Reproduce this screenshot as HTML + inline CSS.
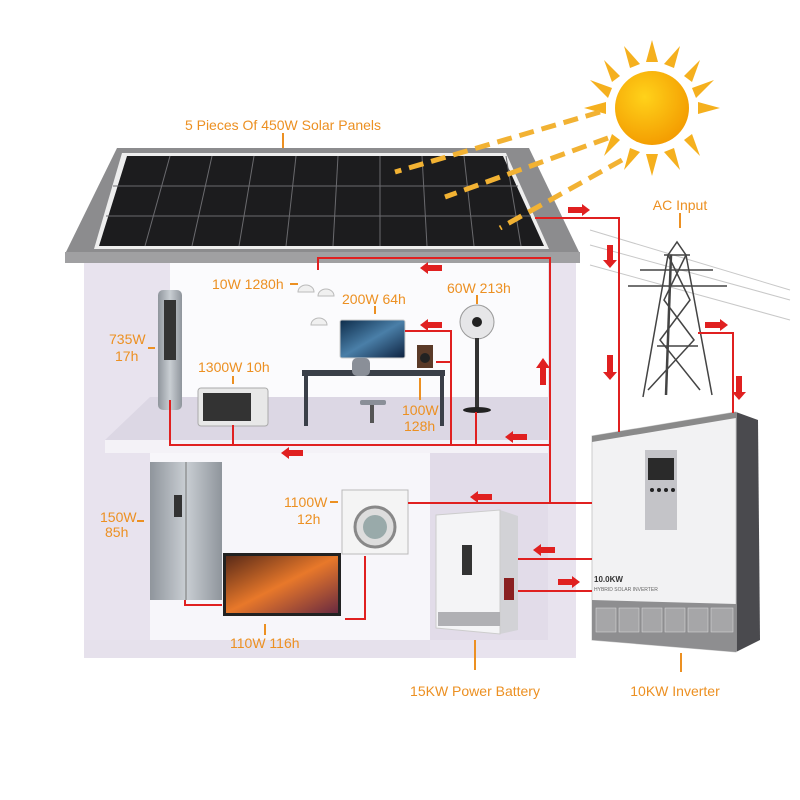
<!DOCTYPE html>
<html><head><meta charset="utf-8"><style>
html,body{margin:0;padding:0;background:#fff;}
svg{display:block}
text{font-family:"Liberation Sans",sans-serif;fill:#ec9022;font-size:14px}
</style></head><body>
<svg width="800" height="800" viewBox="0 0 800 800" xmlns="http://www.w3.org/2000/svg">
<defs>
<radialGradient id="sun" cx="0.4" cy="0.35" r="0.7"><stop offset="0" stop-color="#ffd21a"/><stop offset="1" stop-color="#f39a00"/></radialGradient>
<linearGradient id="tv" x1="0" y1="0" x2="1" y2="1"><stop offset="0" stop-color="#5a2a18"/><stop offset="0.5" stop-color="#e8782a"/><stop offset="1" stop-color="#6a2a40"/></linearGradient>
<linearGradient id="silver" x1="0" x2="1"><stop offset="0" stop-color="#8f959c"/><stop offset="0.5" stop-color="#c9ced3"/><stop offset="1" stop-color="#8f959c"/></linearGradient>
<linearGradient id="mon" x1="0" y1="0" x2="1" y2="1"><stop offset="0" stop-color="#0d2c4a"/><stop offset="0.5" stop-color="#4a7fa8"/><stop offset="1" stop-color="#0d2240"/></linearGradient>
</defs>

<!-- house -->
<rect x="84" y="262" width="492" height="396" fill="#e8e3ee"/>
<rect x="170" y="262" width="378" height="135" fill="#fbfbfd"/>
<polygon points="150,397 548,397 548,440 105,440" fill="#dcd7e4"/>
<rect x="105" y="440" width="443" height="13" fill="#f4f2f7"/>
<rect x="150" y="453" width="280" height="190" fill="#f7f6fa"/>
<polygon points="430,453 548,453 548,640 430,640" fill="#e2dce9"/>
<polygon points="84,640 430,640 430,658 84,658" fill="#e6e1ec"/>

<!-- roof -->
<polygon points="117,148 529,148 580,254 65,254" fill="#8c8c8e"/>
<rect x="65" y="252" width="515" height="11" fill="#a0a0a2"/>
<polygon points="122,153 506,153 549,249 94,249" fill="#eeeeee"/>
<polygon points="127,156 503,156 544,246 99,246" fill="#1c1c1e"/>
<g stroke="#6a6a6e" stroke-width="1">
<line x1="113" y1="186" x2="518" y2="186"/><line x1="106" y1="216" x2="531" y2="216"/>
<line x1="170" y1="156" x2="145" y2="246"/><line x1="212" y1="156" x2="192" y2="246"/>
<line x1="254" y1="156" x2="239" y2="246"/><line x1="296" y1="156" x2="286" y2="246"/>
<line x1="338" y1="156" x2="333" y2="246"/><line x1="380" y1="156" x2="380" y2="246"/>
<line x1="422" y1="156" x2="427" y2="246"/><line x1="464" y1="156" x2="474" y2="246"/>
<line x1="506" y1="156" x2="521" y2="246"/>
</g>

<!-- sun -->
<g fill="#f5b01e">
<polygon points="652,40 646,62 658,62"/><polygon points="652,176 646,154 658,154"/>
<polygon points="584,108 606,102 606,114"/><polygon points="720,108 698,102 698,114"/>
<polygon points="604,60 620,76 612,82"/><polygon points="700,156 684,140 692,134"/>
<polygon points="700,60 684,76 692,82"/><polygon points="604,156 620,140 612,134"/>
<polygon points="624,46 630,68 640,64"/><polygon points="680,46 674,68 664,64"/>
<polygon points="590,80 612,88 608,98"/><polygon points="714,80 692,88 696,98"/>
<polygon points="624,170 630,148 640,152"/><polygon points="680,170 674,148 664,152"/>
</g>
<circle cx="652" cy="108" r="37" fill="url(#sun)"/>
<g stroke="#f2b233" stroke-width="5" stroke-dasharray="15 8" fill="none">
<line x1="600" y1="112" x2="395" y2="172"/>
<line x1="608" y1="138" x2="445" y2="197"/>
<line x1="622" y1="160" x2="500" y2="228"/>
</g>

<!-- pylon -->
<g stroke="#c8c8c8" stroke-width="1" fill="none">
<line x1="590" y1="230" x2="790" y2="290"/><line x1="590" y1="245" x2="790" y2="300"/>
<line x1="590" y1="265" x2="790" y2="320"/>
</g>
<g stroke="#444" stroke-width="1.5" fill="none">
<polyline points="643,397 668,255 677,242 686,255 712,395"/>
<line x1="664" y1="255" x2="690" y2="255"/>
<line x1="640" y1="270" x2="713" y2="270"/><line x1="628" y1="286" x2="727" y2="286"/>
<line x1="657" y1="346" x2="698" y2="346"/>
<polyline points="668,255 690,300 660,340 700,390"/>
<polyline points="686,255 664,300 694,340 648,390"/>
<line x1="671" y1="255" x2="666" y2="395" stroke-width="2.5"/>
</g>

<!-- inverter -->
<polygon points="736,412 758,420 760,640 736,652" fill="#4a4a4e"/>
<polygon points="592,436 736,412 736,652 592,640" fill="#f2f2f3" stroke="#ccc"/>
<polygon points="592,436 736,412 736,418 592,442" fill="#8a8a8a"/>
<polygon points="592,600 736,604 736,652 592,640" fill="#8e8e90"/>
<rect x="645" y="450" width="32" height="80" fill="#c4c4c8"/>
<rect x="648" y="458" width="26" height="22" fill="#2a2a2a"/>
<g fill="#222"><circle cx="652" cy="490" r="2"/><circle cx="659" cy="490" r="2"/><circle cx="666" cy="490" r="2"/><circle cx="673" cy="490" r="2"/></g>
<text x="594" y="582" style="font-size:8px;fill:#333;font-weight:bold">10.0KW</text>
<text x="594" y="591" style="font-size:5px;fill:#666">HYBRID SOLAR INVERTER</text>
<g fill="#a6a6a8" stroke="#ddd" stroke-width="0.5">
<rect x="596" y="608" width="20" height="24"/><rect x="619" y="608" width="20" height="24"/><rect x="642" y="608" width="20" height="24"/><rect x="665" y="608" width="20" height="24"/><rect x="688" y="608" width="20" height="24"/><rect x="711" y="608" width="22" height="24"/>
</g>

<!-- battery -->
<polygon points="500,510 518,516 518,630 500,634" fill="#d2d2d6"/>
<polygon points="436,515 500,510 500,634 436,628" fill="#f4f4f6" stroke="#ccc"/>
<rect x="462" y="545" width="10" height="30" fill="#333"/>
<rect x="438" y="612" width="62" height="14" fill="#b0b0b4"/>
<rect x="504" y="578" width="10" height="22" fill="#8a2020"/>

<!-- appliances upper -->
<rect x="158" y="290" width="24" height="120" rx="5" fill="url(#silver)"/>
<rect x="164" y="300" width="12" height="60" fill="#333"/>
<rect x="198" y="388" width="70" height="38" rx="3" fill="#e8e8e8" stroke="#aaa"/>
<rect x="203" y="393" width="48" height="28" fill="#333"/>
<rect x="302" y="370" width="143" height="6" fill="#3a3f48"/>
<rect x="304" y="376" width="4" height="50" fill="#3a3f48"/><rect x="440" y="376" width="4" height="50" fill="#3a3f48"/>
<rect x="340" y="320" width="65" height="38" rx="2" fill="url(#mon)" stroke="#ccc"/>
<rect x="352" y="358" width="18" height="18" rx="5" fill="#8a8f98"/>
<rect x="360" y="400" width="26" height="5" rx="2" fill="#8a8f98"/><rect x="370" y="405" width="4" height="18" fill="#555"/>
<rect x="417" y="345" width="16" height="23" fill="#5a3a28"/><circle cx="425" cy="358" r="5" fill="#222"/>
<circle cx="477" cy="322" r="17" fill="#e6e6e8" stroke="#999"/><circle cx="477" cy="322" r="5" fill="#222"/>
<rect x="475" y="338" width="4" height="70" fill="#333"/>
<ellipse cx="477" cy="410" rx="14" ry="3" fill="#222"/>
<g fill="#f0f0f0" stroke="#bbb"><path d="M298,292 a8,7 0 0 1 16,0 z"/><path d="M318,296 a8,7 0 0 1 16,0 z"/><path d="M311,325 a8,7 0 0 1 16,0 z"/></g>

<!-- lower -->
<rect x="150" y="462" width="72" height="138" fill="url(#silver)"/>
<line x1="186" y1="462" x2="186" y2="600" stroke="#777"/>
<rect x="174" y="495" width="8" height="22" fill="#333"/>
<rect x="223" y="553" width="118" height="63" fill="#222"/>
<rect x="226" y="556" width="112" height="57" fill="url(#tv)"/>
<rect x="342" y="490" width="66" height="64" fill="#f4f4f4" stroke="#bbb"/>
<circle cx="375" cy="527" r="20" fill="#ddd" stroke="#888" stroke-width="3"/>
<circle cx="375" cy="527" r="12" fill="#9aa"/>

<!-- red lines -->
<g stroke="#e02020" stroke-width="2" fill="none">
<polyline points="535,218 619,218 619,432"/>
<polyline points="698,333 733,333 733,413"/>
<polyline points="318,270 318,258 550,258 550,503"/>
<polyline points="170,400 170,445 550,445"/>
<line x1="233" y1="425" x2="233" y2="445"/>
<polyline points="405,331 451,331 451,445"/>
<line x1="436" y1="362" x2="451" y2="362"/>
<line x1="476" y1="412" x2="476" y2="445"/>
<line x1="408" y1="503" x2="592" y2="503"/>
<line x1="518" y1="559" x2="592" y2="559"/>
<line x1="518" y1="591" x2="592" y2="591"/>
<polyline points="185,600 185,605 222,605"/>
<polyline points="365,556 365,619 345,619"/>
</g>
<g fill="#e02020">
<polygon points="568,207 582,207 582,204 590,210 582,216 582,213 568,213"/>
<polygon points="705,322 720,322 720,319 728,325 720,331 720,328 705,328"/>
<polygon points="607,245 613,245 613,260 617,260 610,268 603,260 607,260"/>
<polygon points="607,355 613,355 613,372 617,372 610,380 603,372 607,372"/>
<polygon points="736,376 742,376 742,392 746,392 739,400 732,392 736,392"/>
<polygon points="442,265 428,265 428,262 420,268 428,274 428,271 442,271"/>
<polygon points="442,322 428,322 428,319 420,325 428,331 428,328 442,328"/>
<polygon points="540,385 546,385 546,368 550,368 543,358 536,368 540,368"/>
<polygon points="527,434 513,434 513,431 505,437 513,443 513,440 527,440"/>
<polygon points="303,450 289,450 289,447 281,453 289,459 289,456 303,456"/>
<polygon points="492,494 478,494 478,491 470,497 478,503 478,500 492,500"/>
<polygon points="555,547 541,547 541,544 533,550 541,556 541,553 555,553"/>
<polygon points="558,579 572,579 572,576 580,582 572,588 572,585 558,585"/>
</g>

<!-- labels -->
<g stroke="#ec9022" stroke-width="2">
<line x1="283" y1="133" x2="283" y2="148"/><line x1="680" y1="213" x2="680" y2="228"/>
<line x1="290" y1="284" x2="298" y2="284"/><line x1="375" y1="306" x2="375" y2="314"/>
<line x1="477" y1="295" x2="477" y2="304"/><line x1="148" y1="348" x2="155" y2="348"/>
<line x1="233" y1="376" x2="233" y2="384"/><line x1="420" y1="378" x2="420" y2="400"/>
<line x1="330" y1="502" x2="338" y2="502"/><line x1="137" y1="521" x2="144" y2="521"/>
<line x1="265" y1="624" x2="265" y2="635"/><line x1="475" y1="640" x2="475" y2="670"/>
<line x1="681" y1="653" x2="681" y2="672"/>
</g>
<text x="283" y="130" text-anchor="middle">5 Pieces Of 450W Solar Panels</text>
<text x="680" y="210" text-anchor="middle">AC Input</text>
<text x="212" y="289">10W 1280h</text>
<text x="342" y="304">200W 64h</text>
<text x="447" y="293">60W 213h</text>
<text x="109" y="344">735W</text><text x="115" y="361">17h</text>
<text x="198" y="372">1300W 10h</text>
<text x="402" y="415">100W</text><text x="404" y="431">128h</text>
<text x="284" y="507">1100W</text><text x="297" y="524">12h</text>
<text x="100" y="522">150W</text><text x="105" y="537">85h</text>
<text x="230" y="648">110W 116h</text>
<text x="475" y="696" text-anchor="middle">15KW Power Battery</text>
<text x="675" y="696" text-anchor="middle">10KW Inverter</text>
</svg>
</body></html>
